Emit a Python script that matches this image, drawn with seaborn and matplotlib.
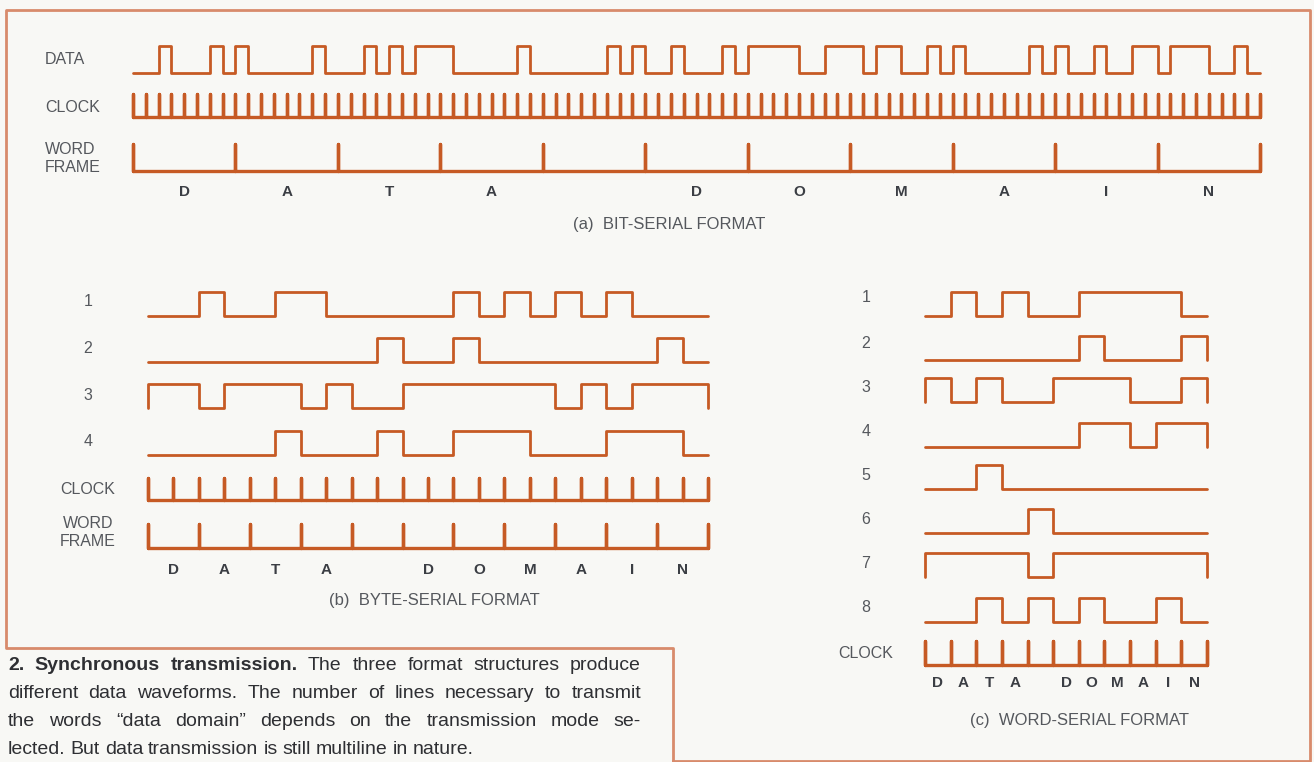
import matplotlib
matplotlib.use("Agg")
import matplotlib.pyplot as plt
from matplotlib.lines import Line2D
import seaborn as sns

# ---- data ----
# (a) bit-serial: one 8-bit word per character, bits in the order they are sent
chars_a = ["D", "A", "T", "A", " ", "D", "O", "M", "A", "I", "N"]
serial_words = ["00100010", "10000010", "00101011", "10000010", "00000101", "00100010",
                "11110011", "10110010", "10000010", "10010011", "01110010"]

# (b) byte-serial: 4 lines, two clocks per character
byte_line1 = "0010011000001010101000"
byte_line2 = "0000000001001000000010"
byte_line3 = "1101110100111111010111"
byte_line4 = "0000010001001110001110"

# (c) word-serial: 8 lines, one clock per character
word_line1 = "01010011110"
word_line2 = "00000010001"
word_line3 = "10100111001"
word_line4 = "00000011011"
word_line5 = "00100000000"
word_line6 = "00001000000"
word_line7 = "11110111111"
word_line8 = "00101010010"

caption_lines = [
    "2. Synchronous transmission. The three format structures produce",
    "different data waveforms. The number of lines necessary to transmit",
    "the words \u201cdata domain\u201d depends on the transmission mode se-",
    "lected. But data transmission is still multiline in nature.",
]

# ---- style ----
W, H = 1314, 762
BG = "#f8f8f5"
WAVE = "#c65a24"
BORDER = "#d88b6c"
LABEL = "#55585d"
LETTER = "#3b3e44"
LW = 2.0

sns.set_style("white")
plt.rcParams["font.family"] = ["Liberation Sans", "DejaVu Sans"]

fig = plt.figure(figsize=(W / 100, H / 100), dpi=100, facecolor=BG)


def px_axes(x0, y0, x1, y1):
    ax = fig.add_axes([x0 / W, 1 - y1 / H, (x1 - x0) / W, (y1 - y0) / H])
    ax.set_facecolor("none")
    ax.axis("off")
    return ax


def step_wave(bits, base, amp):
    lv = [int(b) for b in bits]
    n = len(lv)
    xs = [0] + list(range(n)) + [n, n]
    ys = [base] + [base - amp * v for v in lv] + [base - amp * lv[-1], base]
    return xs, ys


def pulse_train(n_ticks, spacing, base, amp):
    # thin spikes: straight up and back down at every tick
    xs, ys = [0], [base]
    for k in range(n_ticks):
        xs += [k * spacing, k * spacing]
        ys += [base - amp, base]
    return xs, ys


def draw(ax, xs, ys, lw=LW):
    sns.lineplot(x=xs, y=ys, ax=ax, sort=False, estimator=None, drawstyle="steps-post",
                 color=WAVE, lw=lw, legend=False, clip_on=False)


def label(x, y, s, ha="left", size=11, color=LABEL, weight="normal"):
    fig.text(x / W, 1 - y / H, s, ha=ha, va="center", fontsize=size, color=color,
             fontweight=weight)


# ---- (a) bit-serial ----
bits_a = "".join(serial_words)
ax_a = px_axes(133, 20, 1260, 240)
ax_a.set_xlim(0, len(bits_a))
ax_a.set_ylim(240, 20)
draw(ax_a, *step_wave(bits_a, 73, 27))
draw(ax_a, *pulse_train(len(bits_a) + 1, 1, 117, 23), lw=2.4)
draw(ax_a, *pulse_train(len(chars_a) + 1, 8, 171, 27), lw=2.4)
for k, ch in enumerate(chars_a):
    ax_a.text(8 * k + 4, 192, ch, ha="center", va="center", fontsize=11,
              color=LETTER, fontweight="bold")
label(45, 60, "DATA", size=11.5)
label(45, 108, "CLOCK", size=11.5)
label(45, 149, "WORD", size=11.5)
label(45, 167, "FRAME", size=11.5)
label(669, 225, "(a)  BIT-SERIAL FORMAT", ha="center", size=12)

# ---- (b) byte-serial ----
byte_lines = [byte_line1, byte_line2, byte_line3, byte_line4]
b_base = [316, 362, 408, 455]
ax_b = px_axes(148, 270, 708, 615)
ax_b.set_xlim(0, len(byte_line1))
ax_b.set_ylim(615, 270)
for line, base in zip(byte_lines, b_base):
    draw(ax_b, *step_wave(line, base, 24))
draw(ax_b, *pulse_train(len(byte_line1) + 1, 1, 500, 22), lw=2.4)
draw(ax_b, *pulse_train(len(chars_a) + 1, 2, 548, 24), lw=2.4)
for k, ch in enumerate(chars_a):
    ax_b.text(2 * k + 1, 570, ch, ha="center", va="center", fontsize=11,
              color=LETTER, fontweight="bold")
for i, y in enumerate([301, 348, 396, 442]):
    label(88, y, str(i + 1), ha="center", size=11.5)
label(88, 489, "CLOCK", ha="center", size=11.5)
label(88, 524, "WORD", ha="center", size=11.5)
label(88, 542, "FRAME", ha="center", size=11.5)
label(434, 601, "(b)  BYTE-SERIAL FORMAT", ha="center", size=12)

# ---- (c) word-serial ----
word_lines = [word_line1, word_line2, word_line3, word_line4,
              word_line5, word_line6, word_line7, word_line8]
c_base = [316, 360, 402, 447, 489, 533, 577, 622]
ax_c = px_axes(925, 270, 1207, 735)
ax_c.set_xlim(0, len(word_line1))
ax_c.set_ylim(735, 270)
for line, base in zip(word_lines, c_base):
    draw(ax_c, *step_wave(line, base, 24))
draw(ax_c, *pulse_train(len(word_line1) + 1, 1, 665, 24), lw=2.4)
for k, ch in enumerate(chars_a):
    ax_c.text(k + 0.5, 683, ch, ha="center", va="center", fontsize=11,
              color=LETTER, fontweight="bold")
for i, y in enumerate([298, 343, 388, 432, 476, 520, 564, 607]):
    label(866, y, str(i + 1), ha="center", size=11.5)
label(866, 654, "CLOCK", ha="center", size=11.5)
label(1080, 720, "(c)  WORD-SERIAL FORMAT", ha="center", size=12)

# ---- border ----
frame_x = [673, 673, 6, 6, 1310, 1310, 673]
frame_y = [762, 648, 648, 10, 10, 761, 761]
fig.add_artist(Line2D([x / W for x in frame_x], [1 - y / H for y in frame_y],
                      color=BORDER, lw=2.0, transform=fig.transFigure))

# ---- caption, justified ----
renderer = fig.canvas.get_renderer()
cap_y = [666, 694, 721, 749]
x_left, x_right = 8, 641
for i, line in enumerate(caption_lines):
    words = line.split(" ")
    texts = []
    for j, w in enumerate(words):
        t = fig.text(0, 1 - cap_y[i] / H, w, va="center", fontsize=14, color="#2e2f33",
                     fontweight="bold" if (i == 0 and j < 3) else "normal")
        texts.append(t)
    widths = [t.get_window_extent(renderer).width for t in texts]
    if i < len(caption_lines) - 1:
        gap = (x_right - x_left - sum(widths)) / (len(words) - 1)
    else:
        gap = 5
    x = x_left
    for t, wd in zip(texts, widths):
        t.set_x(x / W)
        x += wd + gap

fig.savefig("out.png", dpi=100, facecolor=BG)
